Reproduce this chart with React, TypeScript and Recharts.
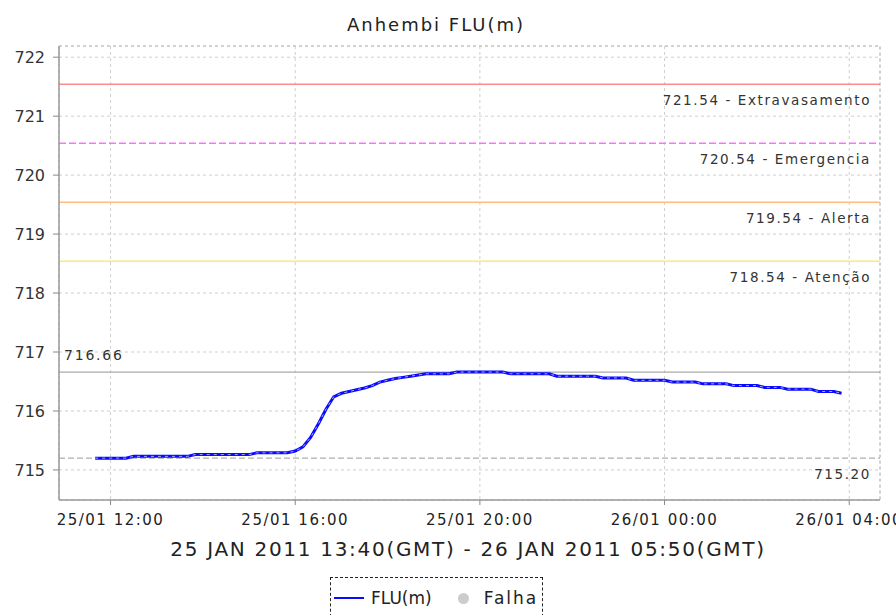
import React from 'react';
import { LineChart, Line, XAxis, YAxis, CartesianGrid, ReferenceLine } from 'recharts';

// minutes since 25/01 00:00 (local), first sample 11:40, every 10 minutes
const startMinute = 700;
const stepMinutes = 10;
const levels = [
  715.20, 715.20, 715.20, 715.20, 715.20, 715.23, 715.23, 715.23, 715.23, 715.23,
  715.23, 715.23, 715.23, 715.26, 715.26, 715.26, 715.26, 715.26, 715.26, 715.26,
  715.26, 715.29, 715.29, 715.29, 715.29, 715.29, 715.32, 715.39, 715.55, 715.78,
  716.03, 716.24, 716.30, 716.33, 716.36, 716.39, 716.43, 716.49, 716.52, 716.55,
  716.57, 716.59, 716.61, 716.63, 716.63, 716.63, 716.63, 716.66, 716.66, 716.66,
  716.66, 716.66, 716.66, 716.66, 716.63, 716.63, 716.63, 716.63, 716.63, 716.63,
  716.59, 716.59, 716.59, 716.59, 716.59, 716.59, 716.56, 716.56, 716.56, 716.56,
  716.52, 716.52, 716.52, 716.52, 716.52, 716.49, 716.49, 716.49, 716.49, 716.46,
  716.46, 716.46, 716.46, 716.43, 716.43, 716.43, 716.43, 716.40, 716.40, 716.40,
  716.37, 716.37, 716.37, 716.37, 716.33, 716.33, 716.33, 716.30,
];

const xTicks = [720, 960, 1200, 1440, 1680];
const yTicks = [715, 716, 717, 718, 719, 720, 721, 722];
const xDomain = [653, 1720];
const yDomain = [714.49, 722.19];

const thresholds = [
  { value: 721.54, label: '721.54 - Extravasamento', color: '#ff8a8a', dash: undefined },
  { value: 720.54, label: '720.54 - Emergencia', color: '#ff70ff', dash: '7 3' },
  { value: 719.54, label: '719.54 - Alerta', color: '#ffbb80', dash: undefined },
  { value: 718.54, label: '718.54 - Atenção', color: '#ffea70', dash: undefined },
];
const maxValue = 716.66;
const minValue = 715.20;

const data = levels.map((v, i) => ({ t: startMinute + i * stepMinutes, v }));

const pad = (n: number) => (n < 10 ? '0' + n : '' + n);
const fmtX = (m: number) => {
  const day = m >= 1440 ? 26 : 25;
  const mm = m % 1440;
  return `${day}/01 ${pad(Math.floor(mm / 60))}:${pad(mm % 60)}`;
};

const FONT = '"DejaVu Sans", sans-serif';

const YTick = (props: any) => {
  const { x, y, payload } = props;
  return (
    <text x={x - 6} y={y} dy={6} textAnchor="end" fontSize={16} fill="#333" fontFamily={FONT}>
      {payload.value}
    </text>
  );
};

const XTick = (props: any) => {
  const { x, y, payload } = props;
  return (
    <text x={x} y={y} dy={18} textAnchor="middle" fontSize={15} fill="#222" fontFamily={FONT} letterSpacing={1.5}>
      {fmtX(payload.value)}
    </text>
  );
};

const RightBelowLabel = (text: string, dy: number) => (props: any) => {
  const vb = props.viewBox || {};
  return (
    <text x={vb.x + vb.width - 9} y={vb.y + dy} textAnchor="end" fontSize={13.5} fill="#333" fontFamily={FONT} letterSpacing={1.6}>
      {text}
    </text>
  );
};

const LeftAboveLabel = (text: string) => (props: any) => {
  const vb = props.viewBox || {};
  return (
    <text x={vb.x + 5} y={vb.y - 12} textAnchor="start" fontSize={14} fill="#333" fontFamily={FONT} letterSpacing={1.8}>
      {text}
    </text>
  );
};

export default function App() {
  return (
    <div style={{ position: 'absolute', left: 0, top: 0, width: 896, height: 615, overflow: 'hidden', background: '#fff', fontFamily: FONT }}>
      <div style={{ position: 'absolute', left: 0, top: 14, width: 872, textAlign: 'center', fontSize: 18, letterSpacing: 2, color: '#222' }}>
        Anhembi FLU(m)
      </div>
      <LineChart width={896} height={615} data={data} margin={{ top: 46, right: 16, bottom: 85, left: 0 }}>
        <CartesianGrid stroke="#cfcfcf" strokeDasharray="3 3" />
        <XAxis
          dataKey="t"
          type="number"
          domain={xDomain}
          ticks={xTicks}
          allowDataOverflow
          height={30}
          tick={<XTick />}
          tickSize={5}
          stroke="#888"
          axisLine={{ stroke: '#999', strokeWidth: 1.5 }}
        />
        <YAxis
          type="number"
          domain={yDomain}
          ticks={yTicks}
          allowDataOverflow
          width={59}
          tick={<YTick />}
          tickSize={6}
          stroke="#888"
          axisLine={{ stroke: '#999', strokeWidth: 1.5 }}
        />
        <ReferenceLine y={yDomain[1]} stroke="#bbb" strokeDasharray="3 3" />
        <ReferenceLine x={xDomain[1]} stroke="#bbb" strokeDasharray="3 3" />
        {thresholds.map((t) => (
          <ReferenceLine
            key={t.value}
            y={t.value}
            stroke={t.color}
            strokeWidth={1.5}
            strokeDasharray={t.dash}
            label={RightBelowLabel(t.label, 21)}
          />
        ))}
        <ReferenceLine y={maxValue} stroke="#aaa" strokeWidth={1.2} label={LeftAboveLabel(maxValue.toFixed(2))} />
        <ReferenceLine y={minValue} stroke="#999" strokeDasharray="6 3" label={RightBelowLabel(minValue.toFixed(2), 21)} />
        <Line
          type="linear"
          dataKey="v"
          stroke="#0a0aff"
          strokeWidth={3}
          dot={false}
          isAnimationActive={false}
        />
        <Line
          type="linear"
          dataKey="v"
          stroke="#a8a8ff"
          strokeWidth={1}
          strokeDasharray="3 4"
          dot={false}
          legendType="none"
          isAnimationActive={false}
        />
      </LineChart>
      <div style={{ position: 'absolute', left: 0, top: 537, width: 936, textAlign: 'center', fontSize: 20, color: '#222', letterSpacing: 1.7 }}>
        25 JAN 2011 13:40(GMT) - 26 JAN 2011 05:50(GMT)
      </div>
      <div style={{ position: 'absolute', left: 330, top: 577, width: 213, height: 40, border: '1px dashed #222', boxSizing: 'border-box', fontSize: 17, color: '#222' }}>
        <div style={{ position: 'absolute', left: 3, top: 10, display: 'flex', alignItems: 'center', whiteSpace: 'nowrap' }}>
          <span style={{ display: 'inline-block', width: 30, height: 2.5, background: '#0a0aff', marginRight: 7 }} />
          <span>FLU(m)</span>
          <span style={{ display: 'inline-block', width: 11, height: 11, borderRadius: '50%', background: '#cccccc', margin: '0 15px 0 26px' }} />
          <span style={{ letterSpacing: 2 }}>Falha</span>
        </div>
      </div>
    </div>
  );
}
